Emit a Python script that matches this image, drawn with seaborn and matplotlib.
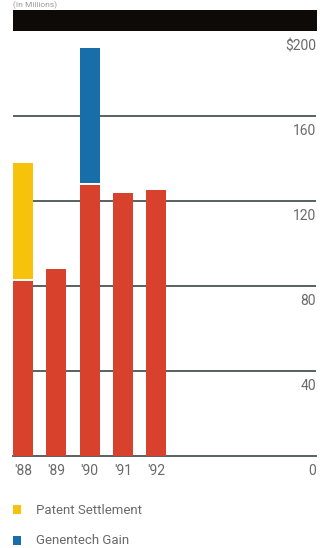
import matplotlib
matplotlib.use("Agg")
import matplotlib.pyplot as plt
import matplotlib.transforms as mtransforms
from matplotlib.patches import Rectangle
import pandas as pd
import seaborn as sns

# Net income components, $ millions
years = ["'88", "'89", "'90", "'91", "'92"]
operating = [83, 88, 128, 124, 125]
patent_settlement = [55, 0, 0, 0, 0]
genentech_gain = [0, 0, 64, 0, 0]
y_ticks = [0, 40, 80, 120, 160, 200]
y_tick_labels = ["0", "40", "80", "120", "160", "$200"]
legend_labels = ["Patent Settlement", "Genentech Gain"]

RED = "#d8412b"
YELLOW = "#f6c20c"
BLUE = "#176ea8"
GRID = "#4a5551"
TEXT = "#6a6a6a"

sns.set_style("white")
plt.rcParams["font.family"] = ["Roboto", "DejaVu Sans"]

W, H = 320, 548
fig = plt.figure(figsize=(W / 100, H / 100), dpi=100)
ax = fig.add_axes([13 / W, 1 - 456 / H, 303 / W, 425 / H])

totals = [o + p + g for o, p, g in zip(operating, patent_settlement, genentech_gain)]
top_colors = [YELLOW if p else BLUE if g else RED
              for p, g in zip(patent_settlement, genentech_gain)]
df = pd.DataFrame({"year": years, "total": totals, "operating": operating})

# gridlines behind the bars
for v in y_ticks[1:-1]:
    ax.axhline(v, color=GRID, lw=1.3, zorder=0)

sns.barplot(data=df, x="year", y="total", hue="year", palette=top_colors,
            legend=False, width=0.6, saturation=1, linewidth=0, ax=ax, zorder=2)
sns.barplot(data=df, x="year", y="operating", color=RED,
            width=0.6, saturation=1, linewidth=0, ax=ax, zorder=3)

# thin white seam where a one-time item sits on top of operating income
for i, (o, t) in enumerate(zip(operating, totals)):
    if t > o:
        ax.plot([i - 0.3, i + 0.3], [o, o], color="white", lw=1.4, zorder=4,
                solid_capstyle="butt")

ax.set_xlim(-0.3, 8.8)
ax.set_ylim(0, 200)
for s in ["top", "right", "left"]:
    ax.spines[s].set_visible(False)
ax.spines["bottom"].set_color(GRID)
ax.spines["bottom"].set_linewidth(1.3)
ax.set_xlabel("")
ax.set_ylabel("")
ax.set_yticks([])
ax.tick_params(axis="x", length=0, pad=6, labelsize=10, labelcolor=TEXT)

# value labels on the right, just under each gridline
trans = mtransforms.blended_transform_factory(ax.transAxes, ax.transData)
off = mtransforms.ScaledTranslation(0, -8 / 100, fig.dpi_scale_trans)
for v, lab in zip(y_ticks, y_tick_labels):
    ax.text(1.0, v, lab, transform=trans + off, ha="right", va="top",
            fontsize=10, color=TEXT)

# black header band
fig.patches.append(Rectangle((13 / W, 1 - 31 / H), 304 / W, 21 / H,
                             transform=fig.transFigure, facecolor="#0d0a07",
                             edgecolor="none", zorder=1))
fig.text(13 / W, 1 - 1 / H, "(In Millions)", ha="left", va="top",
         fontsize=6, color="#9a9a9a")

# legend
for lab, col, yc in zip(legend_labels, [YELLOW, BLUE], [510, 541]):
    fig.patches.append(Rectangle((13 / W, 1 - (yc + 4) / H), 8 / W, 9 / H,
                                 transform=fig.transFigure, facecolor=col,
                                 edgecolor="none"))
    fig.text(36 / W, 1 - yc / H, lab, ha="left", va="center",
             fontsize=9.5, color=TEXT)

fig.savefig("out.png", dpi=100)
